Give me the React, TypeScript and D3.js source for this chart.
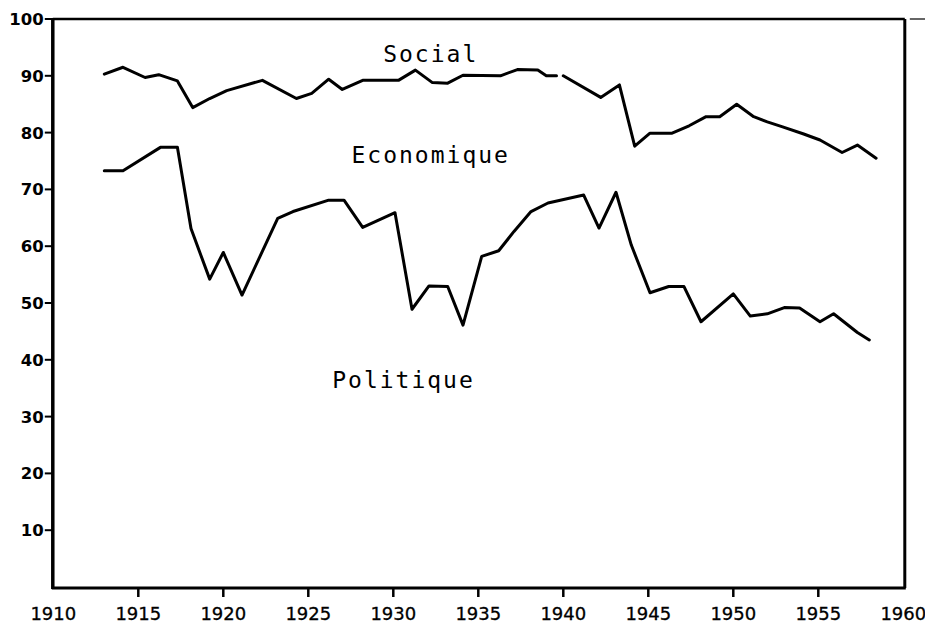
import React from "react";
import * as d3 from "d3";

const socialYears = [1913.0, 1914.1, 1915.4, 1916.2, 1917.3, 1918.2, 1919.2, 1920.2, 1922.3, 1924.3, 1925.2, 1926.2, 1927.0, 1928.2, 1930.3, 1931.3, 1932.3, 1933.2, 1934.1, 1936.3, 1937.3, 1938.5, 1939.0, 1939.6, 1939.8, 1940.0, 1942.2, 1943.3, 1944.2, 1945.1, 1946.4, 1947.4, 1948.4, 1949.2, 1950.2, 1951.2, 1952.0, 1952.9, 1954.1, 1955.1, 1956.4, 1957.3, 1958.4];
const socialValues = [90.3, 91.5, 89.7, 90.2, 89.1, 84.4, 86.0, 87.4, 89.2, 86.0, 86.9, 89.4, 87.6, 89.2, 89.2, 91.0, 88.8, 88.7, 90.1, 90.0, 91.1, 91.0, 90.0, 90.0, NaN, 90.0, 86.2, 88.4, 77.6, 79.9, 79.9, 81.2, 82.8, 82.8, 85.0, 82.8, 81.9, 81.0, 79.8, 78.7, 76.5, 77.8, 75.5];

const econYears = [1913.0, 1914.1, 1916.3, 1917.3, 1918.1, 1919.2, 1920.0, 1921.1, 1923.2, 1924.1, 1926.2, 1927.1, 1928.2, 1930.1, 1931.1, 1932.1, 1933.2, 1934.1, 1935.2, 1936.2, 1937.1, 1938.1, 1939.1, 1941.2, 1942.1, 1943.1, 1944.0, 1945.1, 1946.2, 1947.1, 1948.1, 1950.0, 1951.0, 1952.0, 1953.0, 1953.9, 1955.1, 1955.9, 1957.3, 1958.0];
const econValues = [73.3, 73.3, 77.4, 77.4, 63.1, 54.2, 58.9, 51.4, 64.9, 66.1, 68.1, 68.1, 63.3, 65.9, 48.9, 53.0, 52.9, 46.1, 58.2, 59.2, 62.6, 66.1, 67.6, 69.0, 63.2, 69.5, 60.2, 51.8, 52.9, 52.9, 46.7, 51.6, 47.7, 48.1, 49.2, 49.1, 46.7, 48.1, 44.8, 43.5];

const xTicks = [1910, 1915, 1920, 1925, 1930, 1935, 1940, 1945, 1950, 1955, 1960];
const yTicks = [10, 20, 30, 40, 50, 60, 70, 80, 90, 100];

const labelTexts = ["Social", "Economique", "Politique"];
const labelYears = [1932.2, 1932.2, 1930.6];
const labelValues = [92.4, 74.6, 35.0];

export default function App() {
  const W = 925, H = 622;
  const x = d3.scaleLinear().domain([1910, 1960]).range([53.3, 903.3]);
  const y = d3.scaleLinear().domain([0, 100]).range([587, 19]);
  const left = x(1910) - 0.5;
  const right = x(1960) + 1.5;
  const top = y(100);
  const bottom = y(0) + 1;

  const line = d3
    .line<[number, number]>()
    .defined((d) => !isNaN(d[1]))
    .x((d) => x(d[0]))
    .y((d) => y(d[1]));

  const social: [number, number][] = socialYears.map((yr, i) => [yr, socialValues[i]]);
  const econ: [number, number][] = econYears.map((yr, i) => [yr, econValues[i]]);

  return (
    <svg width={W} height={H} style={{ position: "absolute", left: 0, top: 0, background: "#fff" }}>
      <rect width={W} height={H} fill="#fff" />
      {/* frame */}
      <line x1={left} x2={left} y1={top - 1} y2={bottom + 1} stroke="#000" strokeWidth={3.5} />
      <line x1={left - 1} x2={right + 1} y1={bottom} y2={bottom} stroke="#000" strokeWidth={3} />
      <line x1={left} x2={right} y1={top} y2={top} stroke="#000" strokeWidth={2.5} />
      <line x1={right + 5} x2={W} y1={top} y2={top} stroke="#000" strokeWidth={1.2} />
      <line x1={right} x2={right} y1={top} y2={bottom} stroke="#000" strokeWidth={3} />

      {/* y ticks */}
      {yTicks.map((t) => (
        <g key={"y" + t}>
          <line x1={left - 8} x2={left} y1={y(t)} y2={y(t)} stroke="#000" strokeWidth={2} />
          <text
            x={left - 9}
            y={y(t)}
            dy="0.36em"
            textAnchor="end"
            fontFamily="DejaVu Sans"
            fontWeight="bold"
            fontSize={16.5}
            fill="#000"
          >
            {t}
          </text>
        </g>
      ))}

      {/* x ticks */}
      {xTicks.map((t) => (
        <g key={"x" + t}>
          {t !== 1910 && t !== 1960 && (
            <line x1={x(t)} x2={x(t)} y1={bottom} y2={bottom + 9} stroke="#000" strokeWidth={2.5} />
          )}
          <text
            x={x(t)}
            y={619.5}
            textAnchor="middle"
            fontFamily="DejaVu Sans"
            fontSize={18}
            fill="#000"
            stroke="#000"
            strokeWidth={0.3}
          >
            {t}
          </text>
        </g>
      ))}

      {/* series */}
      <path d={line(social) || ""} fill="none" stroke="#000" strokeWidth={3} strokeLinejoin="round" strokeLinecap="round" />
      <path d={line(econ) || ""} fill="none" stroke="#000" strokeWidth={3} strokeLinejoin="round" strokeLinecap="round" />

      {/* region labels */}
      {labelTexts.map((t, i) => (
        <text
          key={t}
          x={x(labelYears[i])}
          y={y(labelValues[i])}
          textAnchor="middle"
          fontFamily="DejaVu Sans Mono"
          fontSize={23}
          letterSpacing={2}
          fill="#000"
        >
          {t}
        </text>
      ))}
    </svg>
  );
}
